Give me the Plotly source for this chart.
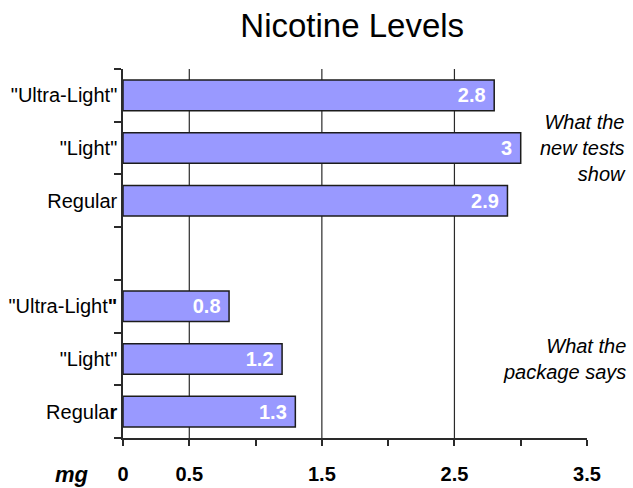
import plotly.graph_objects as go

# Row labels, top to bottom (the blank row separates the two groups)
categories = ['"Ultra-Light"', '"Light"', 'Regular', '',
              '"Ultra-Light<b>"</b>', '"Light"', 'Regula<b>r</b>']
nicotine_mg = [2.8, 3.0, 2.9, None, 0.8, 1.2, 1.3]

x_tick_vals = [0, 0.5, 1.5, 2.5, 3.5]
x_grid_vals = [0.5, 1.5, 2.5]

group_notes = ["What the<br>new tests<br>show", "What the<br>package says"]
group_rows = [[0, 1, 2], [4, 5, 6]]

rows = list(range(len(categories)))
FONT = "Liberation Sans, Arial, sans-serif"
LINE = "#2a2a2a"

fig = go.Figure(
    go.Bar(
        x=nicotine_mg,
        y=rows,
        orientation="h",
        marker=dict(color="#9999ff", line=dict(color="#1c1c1c", width=1.5)),
        texttemplate="%{x}\u00a0",
        textposition="inside",
        insidetextanchor="end",
        textfont=dict(family=FONT, size=20, color="white", weight="bold"),
        hoverinfo="skip",
    )
)

# vertical gridlines at the half-unit marks
for v in x_grid_vals:
    fig.add_shape(type="line", xref="x", yref="paper", x0=v, x1=v, y0=0, y1=1,
                  line=dict(color=LINE, width=1.2), layer="below")

# group notes on the right
for note, grp in zip(group_notes, group_rows):
    fig.add_annotation(text=note, xref="paper", x=1.088, xanchor="right",
                       yref="y", y=sum(grp) / len(grp), yanchor="middle",
                       align="right", showarrow=False,
                       font=dict(family=FONT, size=20, color="black", style="italic"))

# unit label
fig.add_annotation(text="<b><i>mg</i></b>", xref="paper", x=-0.11, xanchor="center",
                   yref="paper", y=-0.098, yanchor="middle", showarrow=False,
                   font=dict(family=FONT, size=22, color="black"))

fig.update_layout(
    width=633, height=488,
    margin=dict(l=123, r=46, t=69, b=50),
    paper_bgcolor="white", plot_bgcolor="white",
    showlegend=False, bargap=0.42,
    title=dict(text="Nicotine Levels", x=0.494, xref="paper", xanchor="center",
               y=1 - 25 / 488, yref="container", yanchor="middle",
               font=dict(family=FONT, size=33, color="black")),
    xaxis=dict(range=[0, 3.5], tickvals=x_tick_vals,
               ticktext=[f"{v:g}" for v in x_tick_vals],
               ticks="outside", ticklen=6, tickwidth=1.5, tickcolor=LINE,
               minor=dict(tick0=0, dtick=0.5, ticks="outside", ticklen=6,
                          tickwidth=1.5, tickcolor=LINE, showgrid=False),
               showgrid=False, zeroline=False, showline=True,
               linecolor=LINE, linewidth=1.5, automargin=False,
               ticklabelstandoff=11,
               tickfont=dict(family=FONT, size=20, color="black", weight="bold")),
    yaxis=dict(range=[6.5, -0.5], tickvals=rows, ticktext=categories, ticks="",
               minor=dict(tick0=0.5, dtick=1, ticks="outside", ticklen=7,
                          tickwidth=1.5, tickcolor=LINE, showgrid=False),
               showgrid=False, zeroline=False, showline=True,
               linecolor=LINE, linewidth=1.5, automargin=False,
               tickfont=dict(family=FONT, size=20, color="black")),
)

fig.write_html("out.html")
